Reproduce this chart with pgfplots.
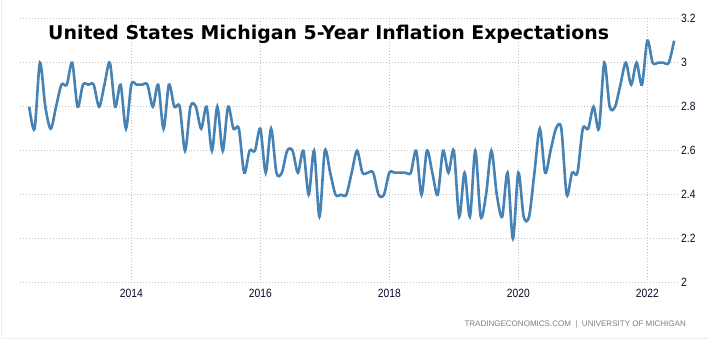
\documentclass[border=0pt]{standalone}
\usepackage{fontspec}
\setmainfont{Liberation Sans}
\newfontfamily\titlefont{DejaVu Sans}
\newfontfamily\tickfont{Liberation Sans}[FakeStretch=0.86]
\usepackage{pgfplots}
\pgfplotsset{compat=1.18}
\usepackage{pgfplotstable}
\definecolor{lineblue}{RGB}{70,130,180}
\definecolor{gridgray}{RGB}{195,195,195}
\definecolor{ticktext}{RGB}{10,10,40}
\definecolor{footgray}{RGB}{120,128,136}
\definecolor{framegray}{RGB}{236,236,236}
\pgfplotstableread{
yr mo v
2012 6 2.8
2012 7 2.7
2012 8 3.0
2012 9 2.8
2012 10 2.7
2012 11 2.8
2012 12 2.9
2013 1 2.9
2013 2 3.0
2013 3 2.8
2013 4 2.9
2013 5 2.9
2013 6 2.9
2013 7 2.8
2013 8 2.9
2013 9 3.0
2013 10 2.8
2013 11 2.9
2013 12 2.7
2014 1 2.9
2014 2 2.9
2014 3 2.9
2014 4 2.9
2014 5 2.8
2014 6 2.9
2014 7 2.7
2014 8 2.9
2014 9 2.8
2014 10 2.8
2014 11 2.6
2014 12 2.8
2015 1 2.8
2015 2 2.7
2015 3 2.8
2015 4 2.6
2015 5 2.8
2015 6 2.6
2015 7 2.8
2015 8 2.7
2015 9 2.7
2015 10 2.5
2015 11 2.6
2015 12 2.6
2016 1 2.7
2016 2 2.5
2016 3 2.7
2016 4 2.5
2016 5 2.5
2016 6 2.6
2016 7 2.6
2016 8 2.5
2016 9 2.6
2016 10 2.4
2016 11 2.6
2016 12 2.3
2017 1 2.6
2017 2 2.5
2017 3 2.4
2017 4 2.4
2017 5 2.4
2017 6 2.5
2017 7 2.6
2017 8 2.5
2017 9 2.5
2017 10 2.5
2017 11 2.4
2017 12 2.4
2018 1 2.5
2018 2 2.5
2018 3 2.5
2018 4 2.5
2018 5 2.5
2018 6 2.6
2018 7 2.4
2018 8 2.6
2018 9 2.5
2018 10 2.4
2018 11 2.6
2018 12 2.5
2019 1 2.6
2019 2 2.3
2019 3 2.5
2019 4 2.3
2019 5 2.6
2019 6 2.3
2019 7 2.4
2019 8 2.6
2019 9 2.4
2019 10 2.3
2019 11 2.5
2019 12 2.2
2020 1 2.5
2020 2 2.3
2020 3 2.3
2020 4 2.5
2020 5 2.7
2020 6 2.5
2020 7 2.6
2020 8 2.7
2020 9 2.7
2020 10 2.4
2020 11 2.5
2020 12 2.5
2021 1 2.7
2021 2 2.7
2021 3 2.8
2021 4 2.7
2021 5 3.0
2021 6 2.8
2021 7 2.8
2021 8 2.9
2021 9 3.0
2021 10 2.9
2021 11 3.0
2021 12 2.9
2022 1 3.1
2022 2 3.0
2022 3 3.0
2022 4 3.0
2022 5 3.0
2022 6 3.1
}\data

\begin{document}
\begin{tikzpicture}
\path[use as bounding box, fill=white] (0bp,0bp) rectangle (708bp,342bp);
\draw[framegray, line width=1bp] (1.5bp,342bp) -- (1.5bp,3.5bp) -- (708bp,3.5bp);
\begin{axis}[
  at={(20bp,59.3bp)}, anchor=south west,
  scale only axis, width=659bp, height=264bp,
  xmin=2012.274, xmax=2022.4915, ymin=2, ymax=3.2,
  axis line style={draw=none},
  major tick length=0pt,
  grid=major,
  major grid style={draw=gridgray, dash pattern=on 1bp off 2bp, line width=0.8bp},
  xtick={2014,2016,2018,2020,2022},
  ytick={2,2.2,2.4,2.6,2.8,3,3.2},
  yticklabel pos=right,
  yticklabel style={anchor=west, inner sep=0pt, xshift=2bp},
  xticklabel style={anchor=north, inner sep=0pt, yshift=-6bp},
  tick label style={font=\tickfont\fontsize{12}{14}\selectfont, text=ticktext},
  /pgf/number format/1000 sep={},
  /pgf/number format/assume math mode=true,
]
\addplot[lineblue, line width=2.6bp, smooth, no markers]
  table[x expr=\thisrow{yr}+(\thisrow{mo}-1)/12, y=v] {\data};
\end{axis}
\node[anchor=base west, inner sep=0pt] at (48bp,302bp)
  {\titlefont\bfseries\fontsize{19}{22}\selectfont United States Michigan 5-Year Inflation Expectations};
\node[anchor=base east, inner sep=0pt, text=footgray] at (686bp,15.5bp)
  {\fontsize{8.05}{9}\selectfont TRADINGECONOMICS.COM \ | \ UNIVERSITY OF MICHIGAN};
\end{tikzpicture}
\end{document}
